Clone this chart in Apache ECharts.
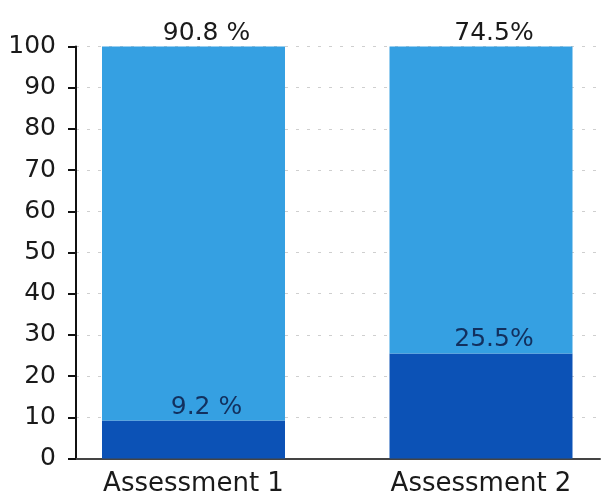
<!DOCTYPE html>
<html>
<head>
<meta charset="utf-8">
<script src="https://cdn.jsdelivr.net/npm/echarts@6/dist/echarts.min.js"></script>
<style>
  html, body { margin: 0; padding: 0; background: #ffffff; }
  #chart { width: 602px; height: 502px; }
</style>
</head>
<body>
<div id="chart"></div>
<script>
// Two assessments, each split into two shares that add up to 100 %
const categories = ['Assessment 1', 'Assessment 2'];
const lowerShare = [9.2, 25.5];
const upperShare = [90.8, 74.5];
const percentSuffix = [' %', '%'];
const yTicks = { min: 0, max: 100, interval: 10 };

const FONT = 'DejaVu Sans';
const LIGHT = '#35a0e2';
const DARK = '#0c52b6';

const chart = echarts.init(document.getElementById('chart'), null, { renderer: 'canvas' });

const labelText = p => p.value + percentSuffix[p.dataIndex];

chart.setOption({
  animation: false,
  backgroundColor: '#ffffff',
  grid: [
    // frame: y axis, baseline and dashed guides
    { left: 76, right: 2, top: 46.5, bottom: 43.5 },
    // bar placement: category points sit on this grid's left and right edges
    { left: 193.5, right: 121, top: 46.5, bottom: 43.5 }
  ],
  xAxis: [
    {
      gridIndex: 0,
      type: 'category',
      data: categories,
      axisLine: { show: true, lineStyle: { color: '#444444', width: 2 } },
      axisTick: { show: false },
      axisLabel: { show: false },
      splitLine: { show: false }
    },
    {
      gridIndex: 1,
      type: 'category',
      data: categories,
      boundaryGap: false,
      axisLine: { show: false },
      axisTick: { show: false },
      axisLabel: {
        show: true,
        margin: 13,
        color: '#1a1a1a',
        fontFamily: FONT,
        fontSize: 26
      },
      splitLine: { show: false }
    }
  ],
  yAxis: [
    {
      gridIndex: 0,
      type: 'value',
      min: yTicks.min,
      max: yTicks.max,
      interval: yTicks.interval,
      axisLine: { show: true, lineStyle: { color: '#111111', width: 2 } },
      axisTick: { show: true, length: 8, lineStyle: { color: '#111111', width: 2 } },
      axisLabel: {
        margin: 20,
        color: '#1a1a1a',
        fontFamily: FONT,
        fontSize: 25
      },
      splitLine: {
        show: true,
        lineStyle: { color: '#cfcfcf', width: 1, type: [3, 8] }
      }
    },
    {
      gridIndex: 1,
      type: 'value',
      min: yTicks.min,
      max: yTicks.max,
      interval: yTicks.interval,
      show: false,
      splitLine: { show: false }
    }
  ],
  series: [
    {
      name: 'lower',
      type: 'bar',
      stack: 'share',
      xAxisIndex: 1,
      yAxisIndex: 1,
      barWidth: 183,
      clip: false,
      data: lowerShare,
      itemStyle: { color: DARK },
      label: {
        show: true,
        position: 'top',
        distance: 1,
        offset: [13, 0],
        formatter: labelText,
        color: '#12305e',
        fontFamily: FONT,
        fontSize: 25
      }
    },
    {
      name: 'upper',
      type: 'bar',
      stack: 'share',
      xAxisIndex: 1,
      yAxisIndex: 1,
      barWidth: 183,
      clip: false,
      data: upperShare,
      itemStyle: { color: LIGHT },
      label: {
        show: true,
        position: 'top',
        distance: 1,
        offset: [13, 0],
        formatter: labelText,
        color: '#1a1a1a',
        fontFamily: FONT,
        fontSize: 25
      }
    }
  ]
});
</script>
</body>
</html>
